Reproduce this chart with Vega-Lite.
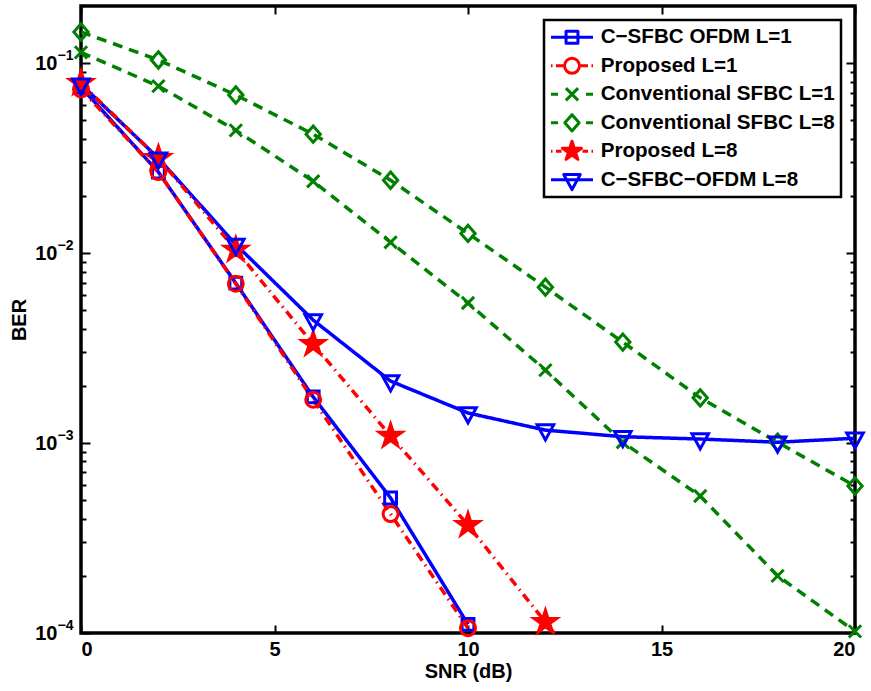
{
  "$schema": "https://vega.github.io/schema/vega-lite/v6.json",
  "width": 774,
  "height": 627,
  "autosize": "none",
  "padding": {"left": 81, "top": 6, "right": 16, "bottom": 58},
  "background": "white",
  "config": {
    "font": "Liberation Sans",
    "view": {"stroke": "black", "strokeWidth": 3.5},
    "axis": {
      "domain": false,
      "grid": false,
      "tickColor": "black",
      "tickWidth": 2,
      "labelFont": "Liberation Sans",
      "labelFontSize": 20,
      "labelFontWeight": "bold",
      "labelColor": "black",
      "titleFont": "Liberation Sans",
      "titleFontSize": 20,
      "titleFontWeight": "bold",
      "titleColor": "black"
    },
    "legend": {
      "orient": "none",
      "legendX": 463,
      "legendY": 14,
      "title": null,
      "padding": 5.8,
      "symbolSize": 400,
      "symbolOffset": 10.7,
      "labelFont": "Liberation Sans",
      "labelFontSize": 20.6,
      "labelFontWeight": "bold",
      "labelColor": "black",
      "labelOffset": 17.2,
      "labelLimit": 400,
      "rowPadding": 5.5,
      "strokeColor": "black",
      "fillColor": "white",
      "symbolStrokeWidth": 3
    }
  },
  "data": {
    "values": [
      {"series": "C−SFBC OFDM L=1", "snr": 0, "ber": 0.0748},
      {"series": "C−SFBC OFDM L=1", "snr": 2, "ber": 0.0267},
      {"series": "C−SFBC OFDM L=1", "snr": 4, "ber": 0.00695},
      {"series": "C−SFBC OFDM L=1", "snr": 6, "ber": 0.00175},
      {"series": "C−SFBC OFDM L=1", "snr": 8, "ber": 0.000514},
      {"series": "C−SFBC OFDM L=1", "snr": 10, "ber": 0.000111},
      {"series": "Proposed L=1", "snr": 0, "ber": 0.0728},
      {"series": "Proposed L=1", "snr": 2, "ber": 0.0267},
      {"series": "Proposed L=1", "snr": 4, "ber": 0.0069},
      {"series": "Proposed L=1", "snr": 6, "ber": 0.00169},
      {"series": "Proposed L=1", "snr": 8, "ber": 0.000423},
      {"series": "Proposed L=1", "snr": 10, "ber": 0.000106},
      {"series": "Conventional SFBC L=1", "snr": 0, "ber": 0.114},
      {"series": "Conventional SFBC L=1", "snr": 2, "ber": 0.0757},
      {"series": "Conventional SFBC L=1", "snr": 4, "ber": 0.0443},
      {"series": "Conventional SFBC L=1", "snr": 6, "ber": 0.0239},
      {"series": "Conventional SFBC L=1", "snr": 8, "ber": 0.0114},
      {"series": "Conventional SFBC L=1", "snr": 10, "ber": 0.00546},
      {"series": "Conventional SFBC L=1", "snr": 12, "ber": 0.00242},
      {"series": "Conventional SFBC L=1", "snr": 14, "ber": 0.00101},
      {"series": "Conventional SFBC L=1", "snr": 16, "ber": 0.000526},
      {"series": "Conventional SFBC L=1", "snr": 18, "ber": 0.0002},
      {"series": "Conventional SFBC L=1", "snr": 20, "ber": 0.000102},
      {"series": "Conventional SFBC L=8", "snr": 0, "ber": 0.146},
      {"series": "Conventional SFBC L=8", "snr": 2, "ber": 0.104},
      {"series": "Conventional SFBC L=8", "snr": 4, "ber": 0.068},
      {"series": "Conventional SFBC L=8", "snr": 6, "ber": 0.0423},
      {"series": "Conventional SFBC L=8", "snr": 8, "ber": 0.0242},
      {"series": "Conventional SFBC L=8", "snr": 10, "ber": 0.0127},
      {"series": "Conventional SFBC L=8", "snr": 12, "ber": 0.00662},
      {"series": "Conventional SFBC L=8", "snr": 14, "ber": 0.0034},
      {"series": "Conventional SFBC L=8", "snr": 16, "ber": 0.00173},
      {"series": "Conventional SFBC L=8", "snr": 18, "ber": 0.00101},
      {"series": "Conventional SFBC L=8", "snr": 20, "ber": 0.000594},
      {"series": "Proposed L=8", "snr": 0, "ber": 0.0785},
      {"series": "Proposed L=8", "snr": 2, "ber": 0.0316},
      {"series": "Proposed L=8", "snr": 4, "ber": 0.0104},
      {"series": "Proposed L=8", "snr": 6, "ber": 0.00332},
      {"series": "Proposed L=8", "snr": 8, "ber": 0.00109},
      {"series": "Proposed L=8", "snr": 10, "ber": 0.00037},
      {"series": "Proposed L=8", "snr": 12, "ber": 0.000114},
      {"series": "Proposed L=8", "snr": 14, "ber": 0.000035},
      {"series": "C−SFBC−OFDM L=8", "snr": 0, "ber": 0.0775},
      {"series": "C−SFBC−OFDM L=8", "snr": 2, "ber": 0.0316},
      {"series": "C−SFBC−OFDM L=8", "snr": 4, "ber": 0.0111},
      {"series": "C−SFBC−OFDM L=8", "snr": 6, "ber": 0.00444},
      {"series": "C−SFBC−OFDM L=8", "snr": 8, "ber": 0.00212},
      {"series": "C−SFBC−OFDM L=8", "snr": 10, "ber": 0.00144},
      {"series": "C−SFBC−OFDM L=8", "snr": 12, "ber": 0.00117},
      {"series": "C−SFBC−OFDM L=8", "snr": 14, "ber": 0.00108},
      {"series": "C−SFBC−OFDM L=8", "snr": 16, "ber": 0.00105},
      {"series": "C−SFBC−OFDM L=8", "snr": 18, "ber": 0.00101},
      {"series": "C−SFBC−OFDM L=8", "snr": 20, "ber": 0.00106}
    ]
  },
  "layer": [
    {
      "transform": [{"filter": {"field": "series", "oneOf": ["C−SFBC OFDM L=1", "C−SFBC−OFDM L=8"]}}],
      "mark": {"type": "line", "clip": true, "strokeWidth": 3.5},
      "encoding": {
        "x": {
          "field": "snr", "type": "quantitative",
          "scale": {"domain": [0, 20], "nice": false, "zero": false},
          "axis": {
            "orient": "bottom", "values": [0, 5, 10, 15, 20], "tickSize": -8,
            "labelPadding": 14, "title": "SNR (dB)", "titlePadding": 2
          }
        },
        "y": {
          "field": "ber", "type": "quantitative",
          "scale": {"type": "log", "domain": [0.0001, 0.2], "nice": false},
          "axis": {
            "orient": "left",
            "values": [0.0001, 0.001, 0.01, 0.1],
            "ticks": false,
            "labelExpr": "'10'",
            "labelFontSize": 20,
            "labelPadding": 24,
            "labelBound": false,
            "labelOverlap": false,
            "title": "BER",
            "titlePadding": 5
          }
        },
        "color": {
          "field": "series", "type": "nominal",
          "scale": {
            "domain": ["C−SFBC OFDM L=1", "Proposed L=1", "Conventional SFBC L=1", "Conventional SFBC L=8", "Proposed L=8", "C−SFBC−OFDM L=8"],
            "range": ["#0000FF", "#FF0000", "#008000", "#008000", "#FF0000", "#0000FF"]
          },
          "legend": {
            "encode": {
              "legend": {"update": {"strokeWidth": {"value": 2.5}}},
              "symbols": {
                "update": {
                  "shape": {"signal": "datum.value === 'C−SFBC OFDM L=1' ? 'M-2.1,0L2.1,0M-0.594,-0.594L0.594,-0.594L0.594,0.594L-0.594,0.594Z' : datum.value === 'Proposed L=1' ? 'M-2.1,0L-1.95,0M-1.6,0L-0.85,0M0.85,0L1.6,0M1.95,0L2.1,0M-0.747,0A0.747,0.747,0,1,0,0.747,0A0.747,0.747,0,1,0,-0.747,0Z' : datum.value === 'Conventional SFBC L=1' ? 'M-2.1,0L-1.4,0M1.4,0L2.1,0M-0.612,-0.612L0.612,0.612M-0.612,0.612L0.612,-0.612' : datum.value === 'Conventional SFBC L=8' ? 'M-2.1,0L-1.4,0M1.4,0L2.1,0M0,-0.814L0.716,0L0,0.814L-0.716,0Z' : datum.value === 'Proposed L=8' ? 'M-2.1,0L-1.95,0M-1.6,0L-1.05,0M1.05,0L1.6,0M1.95,0L2.1,0M0,-1L0.224,-0.308L0.951,-0.309L0.362,0.117L0.588,0.809L0,0.38L-0.588,0.809L-0.362,0.117L-0.951,-0.309L-0.224,-0.308Z' : 'M-2.1,0L2.1,0M-0.826,-0.52L0.826,-0.52L0,0.979Z'"},
                  "fill": {"signal": "datum.value === 'Proposed L=8' ? '#FF0000' : 'transparent'"},
                  "strokeWidth": {"value": 3},
                  "strokeJoin": {"value": "round"},
                  "strokeDash": {"value": []},
                  "opacity": {"value": 1}
                }
              }
            }
          }
        },
        "strokeDash": {
          "field": "series", "type": "nominal",
          "scale": {
            "domain": ["C−SFBC−OFDM L=8", "Proposed L=8", "Conventional SFBC L=8", "Conventional SFBC L=1", "Proposed L=1", "C−SFBC OFDM L=1"],
            "range": [[1, 0], [9, 5, 1.5, 5], [10, 7], [10, 7], [9, 5, 1.5, 5], [1, 0]]
          },
          "legend": null
        }
      }
    },
    {
      "transform": [{"filter": {"field": "series", "oneOf": ["Proposed L=1", "Proposed L=8"]}}],
      "mark": {"type": "line", "clip": true, "strokeWidth": 3.5},
      "encoding": {
        "x": {
          "field": "snr", "type": "quantitative",
          "axis": {"orient": "top", "values": [0, 5, 10, 15, 20], "tickSize": -8, "labels": false, "title": null}
        },
        "y": {
          "field": "ber", "type": "quantitative",
          "axis": {
            "orient": "left",
            "values": [0.0001, 0.001, 0.01, 0.1],
            "ticks": false,
            "labelExpr": "datum.value == 0.1 ? '−1' : datum.value == 0.01 ? '−2' : datum.value == 0.001 ? '−3' : '−4'",
            "labelFontSize": 14,
            "labelPadding": 8,
            "labelOffset": -8,
            "labelBound": false,
            "labelOverlap": false,
            "title": null
          }
        },
        "color": {
          "field": "series", "type": "nominal",
          "scale": {
            "domain": ["C−SFBC OFDM L=1", "Proposed L=1", "Conventional SFBC L=1", "Conventional SFBC L=8", "Proposed L=8", "C−SFBC−OFDM L=8"],
            "range": ["#0000FF", "#FF0000", "#008000", "#008000", "#FF0000", "#0000FF"]
          },
          "legend": {
            "encode": {
              "legend": {"update": {"strokeWidth": {"value": 2.5}}},
              "symbols": {
                "update": {
                  "shape": {"signal": "datum.value === 'C−SFBC OFDM L=1' ? 'M-2.1,0L2.1,0M-0.594,-0.594L0.594,-0.594L0.594,0.594L-0.594,0.594Z' : datum.value === 'Proposed L=1' ? 'M-2.1,0L-1.95,0M-1.6,0L-0.85,0M0.85,0L1.6,0M1.95,0L2.1,0M-0.747,0A0.747,0.747,0,1,0,0.747,0A0.747,0.747,0,1,0,-0.747,0Z' : datum.value === 'Conventional SFBC L=1' ? 'M-2.1,0L-1.4,0M1.4,0L2.1,0M-0.612,-0.612L0.612,0.612M-0.612,0.612L0.612,-0.612' : datum.value === 'Conventional SFBC L=8' ? 'M-2.1,0L-1.4,0M1.4,0L2.1,0M0,-0.814L0.716,0L0,0.814L-0.716,0Z' : datum.value === 'Proposed L=8' ? 'M-2.1,0L-1.95,0M-1.6,0L-1.05,0M1.05,0L1.6,0M1.95,0L2.1,0M0,-1L0.224,-0.308L0.951,-0.309L0.362,0.117L0.588,0.809L0,0.38L-0.588,0.809L-0.362,0.117L-0.951,-0.309L-0.224,-0.308Z' : 'M-2.1,0L2.1,0M-0.826,-0.52L0.826,-0.52L0,0.979Z'"},
                  "fill": {"signal": "datum.value === 'Proposed L=8' ? '#FF0000' : 'transparent'"},
                  "strokeWidth": {"value": 3},
                  "strokeJoin": {"value": "round"},
                  "strokeDash": {"value": []},
                  "opacity": {"value": 1}
                }
              }
            }
          }
        },
        "strokeDash": {
          "field": "series", "type": "nominal",
          "scale": {
            "domain": ["C−SFBC−OFDM L=8", "Proposed L=8", "Conventional SFBC L=8", "Conventional SFBC L=1", "Proposed L=1", "C−SFBC OFDM L=1"],
            "range": [[1, 0], [9, 5, 1.5, 5], [10, 7], [10, 7], [9, 5, 1.5, 5], [1, 0]]
          },
          "legend": null
        }
      }
    },
    {
      "transform": [{"filter": {"field": "series", "oneOf": ["Conventional SFBC L=1", "Conventional SFBC L=8"]}}],
      "mark": {"type": "line", "clip": true, "strokeWidth": 3.5},
      "encoding": {
        "x": {"field": "snr", "type": "quantitative", "axis": null},
        "y": {
          "field": "ber", "type": "quantitative",
          "axis": {
            "orient": "left",
            "values": [0.0001, 0.0002, 0.0003, 0.0004, 0.0005, 0.0006, 0.0007, 0.0008, 0.0009, 0.001, 0.002, 0.003, 0.004, 0.005, 0.006, 0.007, 0.008, 0.009, 0.01, 0.02, 0.03, 0.04, 0.05, 0.06, 0.07, 0.08, 0.09, 0.1],
            "tickSize": {"condition": {"test": "datum.value == 0.1 || datum.value == 0.01 || datum.value == 0.001 || datum.value == 0.0001", "value": -9}, "value": -5},
            "labels": false,
            "title": null
          }
        },
        "color": {
          "field": "series", "type": "nominal",
          "scale": {
            "domain": ["C−SFBC OFDM L=1", "Proposed L=1", "Conventional SFBC L=1", "Conventional SFBC L=8", "Proposed L=8", "C−SFBC−OFDM L=8"],
            "range": ["#0000FF", "#FF0000", "#008000", "#008000", "#FF0000", "#0000FF"]
          },
          "legend": {
            "encode": {
              "legend": {"update": {"strokeWidth": {"value": 2.5}}},
              "symbols": {
                "update": {
                  "shape": {"signal": "datum.value === 'C−SFBC OFDM L=1' ? 'M-2.1,0L2.1,0M-0.594,-0.594L0.594,-0.594L0.594,0.594L-0.594,0.594Z' : datum.value === 'Proposed L=1' ? 'M-2.1,0L-1.95,0M-1.6,0L-0.85,0M0.85,0L1.6,0M1.95,0L2.1,0M-0.747,0A0.747,0.747,0,1,0,0.747,0A0.747,0.747,0,1,0,-0.747,0Z' : datum.value === 'Conventional SFBC L=1' ? 'M-2.1,0L-1.4,0M1.4,0L2.1,0M-0.612,-0.612L0.612,0.612M-0.612,0.612L0.612,-0.612' : datum.value === 'Conventional SFBC L=8' ? 'M-2.1,0L-1.4,0M1.4,0L2.1,0M0,-0.814L0.716,0L0,0.814L-0.716,0Z' : datum.value === 'Proposed L=8' ? 'M-2.1,0L-1.95,0M-1.6,0L-1.05,0M1.05,0L1.6,0M1.95,0L2.1,0M0,-1L0.224,-0.308L0.951,-0.309L0.362,0.117L0.588,0.809L0,0.38L-0.588,0.809L-0.362,0.117L-0.951,-0.309L-0.224,-0.308Z' : 'M-2.1,0L2.1,0M-0.826,-0.52L0.826,-0.52L0,0.979Z'"},
                  "fill": {"signal": "datum.value === 'Proposed L=8' ? '#FF0000' : 'transparent'"},
                  "strokeWidth": {"value": 3},
                  "strokeJoin": {"value": "round"},
                  "strokeDash": {"value": []},
                  "opacity": {"value": 1}
                }
              }
            }
          }
        },
        "strokeDash": {
          "field": "series", "type": "nominal",
          "scale": {
            "domain": ["C−SFBC−OFDM L=8", "Proposed L=8", "Conventional SFBC L=8", "Conventional SFBC L=1", "Proposed L=1", "C−SFBC OFDM L=1"],
            "range": [[1, 0], [9, 5, 1.5, 5], [10, 7], [10, 7], [9, 5, 1.5, 5], [1, 0]]
          },
          "legend": null
        }
      }
    },
    {
      "transform": [{"filter": "datum.ber >= 0.00009"}],
      "mark": {"type": "point", "size": 185, "strokeWidth": 3, "opacity": 1},
      "encoding": {
        "x": {"field": "snr", "type": "quantitative", "axis": null},
        "y": {
          "field": "ber", "type": "quantitative",
          "axis": {
            "orient": "right",
            "values": [0.0001, 0.0002, 0.0003, 0.0004, 0.0005, 0.0006, 0.0007, 0.0008, 0.0009, 0.001, 0.002, 0.003, 0.004, 0.005, 0.006, 0.007, 0.008, 0.009, 0.01, 0.02, 0.03, 0.04, 0.05, 0.06, 0.07, 0.08, 0.09, 0.1],
            "tickSize": {"condition": {"test": "datum.value == 0.1 || datum.value == 0.01 || datum.value == 0.001 || datum.value == 0.0001", "value": -9}, "value": -5},
            "labels": false,
            "title": null
          }
        },
        "stroke": {
          "field": "series", "type": "nominal",
          "scale": {
            "domain": ["Proposed L=1", "Conventional SFBC L=1", "Conventional SFBC L=8", "Proposed L=8", "C−SFBC−OFDM L=8", "C−SFBC OFDM L=1"],
            "range": ["#FF0000", "#008000", "#008000", "#FF0000", "#0000FF", "#0000FF"]
          },
          "legend": null
        },
        "shape": {
          "field": "series", "type": "nominal",
          "scale": {
            "domain": ["Conventional SFBC L=1", "Conventional SFBC L=8", "Proposed L=8", "C−SFBC−OFDM L=8", "C−SFBC OFDM L=1", "Proposed L=1"],
            "range": [
              "M-0.9,-0.9L0.9,0.9M-0.9,0.9L0.9,-0.9",
              "M0,-1.2L1.05,0L0,1.2L-1.05,0Z",
              "M0,-1.75L0.39,-0.538L1.664,-0.541L0.632,0.206L1.029,1.416L0,0.665L-1.029,1.416L-0.632,0.206L-1.664,-0.541L-0.39,-0.538Z",
              "M-1.22,-0.77L1.22,-0.77L0,1.45Z",
              "M-0.87,-0.87L0.87,-0.87L0.87,0.87L-0.87,0.87Z",
              "M-1.1,0A1.1,1.1,0,1,0,1.1,0A1.1,1.1,0,1,0,-1.1,0Z"
            ]
          },
          "legend": null
        },
        "fill": {
          "condition": {"test": "datum.series === 'Proposed L=8'", "value": "#FF0000"},
          "value": "transparent"
        }
      }
    }
  ],
  "resolve": {"axis": {"x": "independent", "y": "independent"}}
}
